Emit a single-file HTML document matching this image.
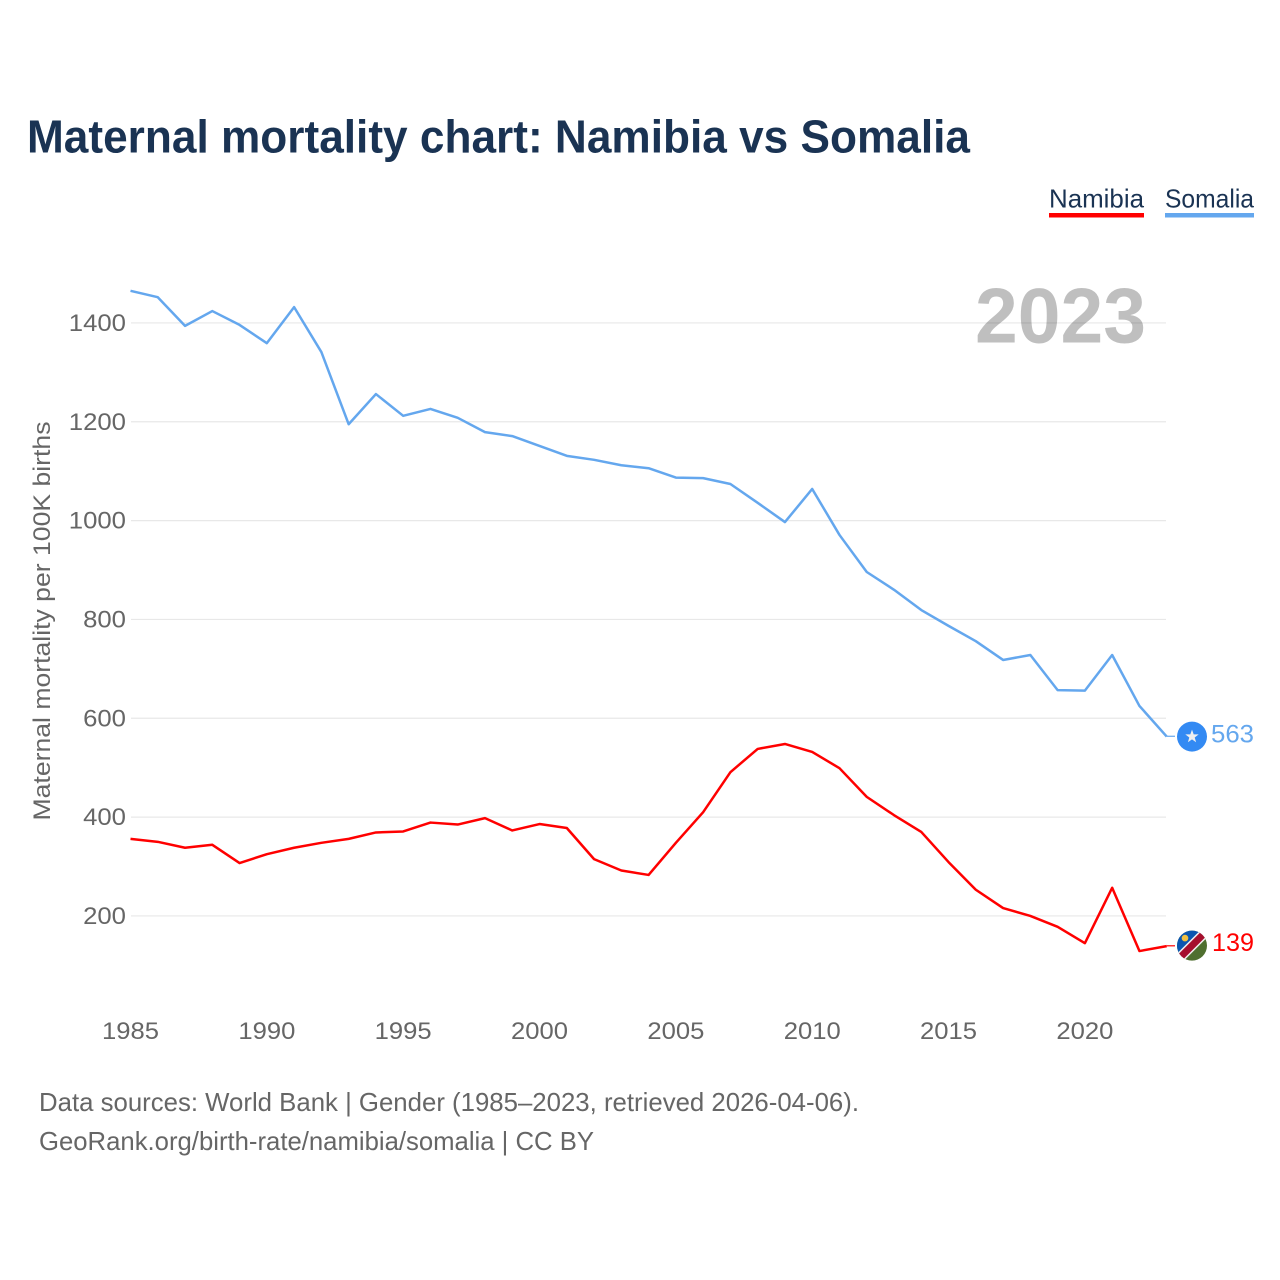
<!DOCTYPE html>
<html lang="en">
<head>
<meta charset="utf-8">
<title>Maternal mortality chart: Namibia vs Somalia</title>
<style>
html,body{margin:0;padding:0;background:#fff;}
svg{display:block;font-family:"Liberation Sans",sans-serif;}
</style>
</head>
<body>
<svg id="chart" xmlns="http://www.w3.org/2000/svg" width="1280" height="1280" viewBox="0 0 1280 1280">
  <rect x="0" y="0" width="1280" height="1280" fill="#fff"/>
  <text x="27" y="152.5" font-size="46" font-weight="700" fill="#1a3353" textLength="943" lengthAdjust="spacingAndGlyphs">Maternal mortality chart: Namibia vs Somalia</text>

  <g>
    <g>
      <text x="1049" y="207.5" font-size="26" fill="#1a3353" textLength="95" lengthAdjust="spacingAndGlyphs">Namibia</text>
      <rect x="1049" y="213" width="95" height="4.5" fill="#ff0000"/>
    </g>
    <g>
      <text x="1165" y="207.5" font-size="26" fill="#1a3353" textLength="89" lengthAdjust="spacingAndGlyphs">Somalia</text>
      <rect x="1165" y="213" width="89" height="4.5" fill="#64a7ee"/>
    </g>
  </g>

  <g id="grid"></g>
  <g id="y-ticks"></g>
  <g id="x-ticks"></g>

  <text transform="translate(50 820.5) rotate(-90)" font-size="24.5" fill="#666" textLength="399" lengthAdjust="spacingAndGlyphs">Maternal mortality per 100K births</text>

  <text x="975" y="342.5" font-size="78" font-weight="700" fill="#000" fill-opacity="0.25" textLength="171" lengthAdjust="spacingAndGlyphs">2023</text>

  <g id="series"></g>

  <g id="flag-somalia">
    <circle cx="0" cy="0" r="15" fill="#338af3"/>
    <polygon points="0,-7 1.7,-2.2 6.7,-2.2 2.7,0.9 4.1,5.7 0,2.8 -4.1,5.7 -2.7,0.9 -6.7,-2.2 -1.7,-2.2" fill="#f0f0f0"/>
  </g>
  <text id="label-somalia" font-size="25" fill="#64a7ee" textLength="43" lengthAdjust="spacingAndGlyphs"></text>

  <defs>
    <clipPath id="namibia-clip"><circle cx="0" cy="0" r="15"/></clipPath>
  </defs>
  <g id="flag-namibia">
    <g clip-path="url(#namibia-clip)">
      <rect x="-16" y="-16" width="32" height="32" fill="#4f6f2f"/>
      <polygon points="-16,-16 16,-16 -16,16" fill="#0a56b0"/>
      <line x1="-16" y1="16" x2="16" y2="-16" stroke="#f0f0f0" stroke-width="10"/>
      <line x1="-16" y1="16" x2="16" y2="-16" stroke="#a50f2d" stroke-width="7"/>
      <circle cx="-7" cy="-7.5" r="3.3" fill="#f0c040"/>
    </g>
  </g>
  <text id="label-namibia" font-size="25" fill="#ff0000" textLength="42" lengthAdjust="spacingAndGlyphs"></text>

  <text x="39" y="1111" font-size="26" fill="#666" textLength="820" lengthAdjust="spacingAndGlyphs">Data sources: World Bank | Gender (1985–2023, retrieved 2026-04-06).</text>
  <text x="39" y="1150" font-size="26" fill="#666" textLength="555" lengthAdjust="spacingAndGlyphs">GeoRank.org/birth-rate/namibia/somalia | CC BY</text>
</svg>
<script>
var years = [1985,1986,1987,1988,1989,1990,1991,1992,1993,1994,1995,1996,1997,1998,1999,2000,2001,2002,2003,2004,2005,2006,2007,2008,2009,2010,2011,2012,2013,2014,2015,2016,2017,2018,2019,2020,2021,2022,2023];
var somaliaValues = [1465,1452,1394,1424,1396,1359,1432,1341,1195,1256,1212,1226,1208,1179,1171,1151,1131,1123,1112,1106,1087,1086,1074,1036,997,1064,971,896,860,819,787,756,718,728,657,656,728,625,563];
var namibiaValues = [356,350,338,344,307,325,338,348,356,369,371,389,385,398,373,386,378,315,292,283,348,410,491,538,548,532,499,441,404,370,309,253,216,200,178,145,257,129,139];
var yTickValues = [200,400,600,800,1000,1200,1400];
var xTickValues = [1985,1990,1995,2000,2005,2010,2015,2020];

var NS = 'http://www.w3.org/2000/svg';
function xScale(year) { return 130.5 + (year - 1985) * (1166.7 - 130.5) / 38; }
function yScale(value) { return 1014.8 - value * 0.4942; }

var grid = document.getElementById('grid');
var yTicks = document.getElementById('y-ticks');
var xTicks = document.getElementById('x-ticks');
var seriesGroup = document.getElementById('series');

yTickValues.forEach(function (v) {
  var line = document.createElementNS(NS, 'line');
  
  
  line.setAttribute('x1', 131);
  line.setAttribute('x2', 1166);
  line.setAttribute('y1', yScale(v));
  line.setAttribute('y2', yScale(v));
  line.setAttribute('stroke', '#e8e8e8');
  line.setAttribute('stroke-width', 1.2);
  grid.appendChild(line);

  var label = document.createElementNS(NS, 'text');
  
  
  label.setAttribute('x', 126);
  label.setAttribute('y', yScale(v) + 8);
  label.setAttribute('text-anchor', 'end');
  label.setAttribute('font-size', 24.5);
  label.setAttribute('fill', '#666');
  label.setAttribute('textLength', String(v).length * 14.3);
  label.setAttribute('lengthAdjust', 'spacingAndGlyphs');
  label.textContent = String(v);
  yTicks.appendChild(label);
});

xTickValues.forEach(function (year) {
  var label = document.createElementNS(NS, 'text');
  
  
  label.setAttribute('x', xScale(year));
  label.setAttribute('y', 1039);
  label.setAttribute('text-anchor', 'middle');
  label.setAttribute('font-size', 24.5);
  label.setAttribute('fill', '#666');
  label.setAttribute('textLength', 57);
  label.setAttribute('lengthAdjust', 'spacingAndGlyphs');
  label.textContent = String(year);
  xTicks.appendChild(label);
});

function pointsFor(values) {
  var pts = values.map(function (v, i) {
    return xScale(years[i]).toFixed(2) + ',' + yScale(v).toFixed(2);
  });
  return pts.join(' ');
}

var somaliaLine = document.createElementNS(NS, 'polyline');


somaliaLine.setAttribute('points', pointsFor(somaliaValues));
somaliaLine.setAttribute('fill', 'none');
somaliaLine.setAttribute('stroke', '#64a7ee');
somaliaLine.setAttribute('stroke-width', 2.5);
somaliaLine.setAttribute('stroke-linejoin', 'round');
seriesGroup.appendChild(somaliaLine);

var namibiaLine = document.createElementNS(NS, 'polyline');


namibiaLine.setAttribute('points', pointsFor(namibiaValues));
namibiaLine.setAttribute('fill', 'none');
namibiaLine.setAttribute('stroke', '#ff0000');
namibiaLine.setAttribute('stroke-width', 2.5);
namibiaLine.setAttribute('stroke-linejoin', 'round');
seriesGroup.appendChild(namibiaLine);

function addConnector(values, color, name) {
  var last = values[values.length - 1];
  var c = document.createElementNS(NS, 'line');
  
  
  c.setAttribute('x1', xScale(2023));
  c.setAttribute('x2', 1175);
  c.setAttribute('y1', yScale(last) - 0.3);
  c.setAttribute('y2', yScale(last) - 0.3);
  c.setAttribute('stroke', color);
  c.setAttribute('stroke-width', 1.2);
  seriesGroup.appendChild(c);
}
addConnector(somaliaValues, '#64a7ee', 'connector-somalia');
addConnector(namibiaValues, '#ff0000', 'connector-namibia');

var somaliaLast = somaliaValues[somaliaValues.length - 1];
var namibiaLast = namibiaValues[namibiaValues.length - 1];
document.getElementById('flag-somalia').setAttribute('transform', 'translate(1192 ' + yScale(somaliaLast) + ')');
document.getElementById('flag-namibia').setAttribute('transform', 'translate(1192 ' + (yScale(namibiaLast) - 0.5) + ')');
var labelS = document.getElementById('label-somalia');
labelS.setAttribute('x', 1211);
labelS.setAttribute('y', yScale(somaliaLast) + 6);
labelS.textContent = String(somaliaLast);
var labelN = document.getElementById('label-namibia');
labelN.setAttribute('x', 1212);
labelN.setAttribute('y', yScale(namibiaLast) + 5);
labelN.textContent = String(namibiaLast);
</script>
</body>
</html>
